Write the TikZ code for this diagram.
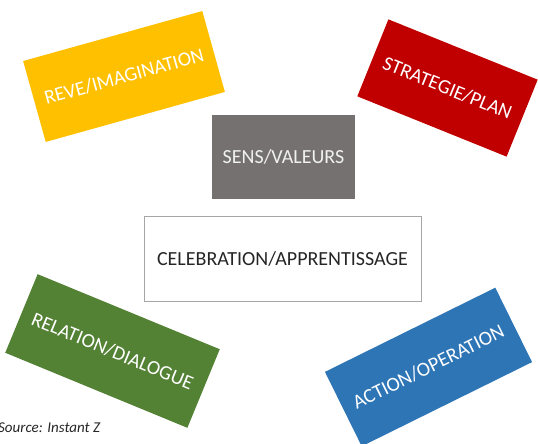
\documentclass[tikz,border=0pt]{standalone}
\usepackage{fontspec}
\setmainfont{Carlito}
\definecolor{dreamyellow}{HTML}{FFC000}
\definecolor{planred}{HTML}{C00000}
\definecolor{valuegrey}{HTML}{767171}
\definecolor{talkgreen}{HTML}{548235}
\definecolor{actblue}{HTML}{2E75B6}
\definecolor{framegrey}{HTML}{A6A6A6}
\definecolor{inktext}{HTML}{262626}
\begin{document}
\begin{tikzpicture}[x=1pt,y=1pt,
  card/.style={inner sep=0pt, align=center, text=white,
    font=\fontsize{20}{24}\selectfont},
  tag/.style={font=\fontsize{15}{17}\selectfont\itshape, text=inktext, inner sep=0pt}]
  \useasboundingbox (0,0) rectangle (538,444);

  % outer ring of rotated cards
  \node[card, fill=dreamyellow, minimum width=186, minimum height=84, rotate=15.6]
    (dream) at (124,367.5) {REVE/IMAGINATION};
  \node[card, fill=planred, minimum width=161, minimum height=83, rotate=-22]
    (plan) at (447.5,356) {STRATEGIE/PLAN};
  \node[card, fill=talkgreen, minimum width=197, minimum height=85, rotate=-22.4]
    (talk) at (112.5,93) {RELATION/DIALOGUE};
  \node[card, fill=actblue, minimum width=190, minimum height=83, rotate=26.3]
    (act) at (428.5,77) {ACTION/OPERATION};

  % central stack
  \node[card, fill=valuegrey, text=white!90!valuegrey, minimum width=143, minimum height=84]
    (sense) at (283.5,287) {SENS/VALEURS};
  \node[card, fill=white, draw=framegrey, line width=0.8pt, text=inktext,
    minimum width=277, minimum height=85]
    (learn) at (282.5,185) {CELEBRATION/APPRENTISSAGE};

  % credit line
  \node[tag, anchor=base west] (credit) at (-2,11) {Source: Instant Z};
\end{tikzpicture}
\end{document}
